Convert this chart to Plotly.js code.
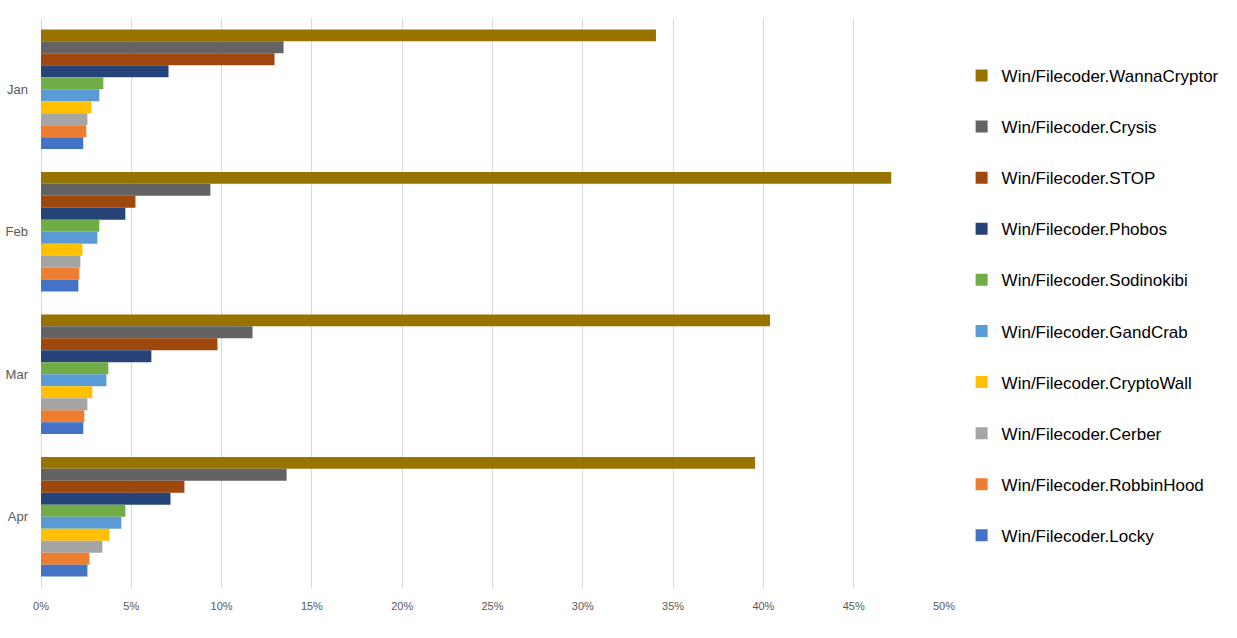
<!DOCTYPE html>
<html>
<head>
<meta charset="utf-8">
<script src="https://cdn.plot.ly/plotly-3.0.1.min.js"></script>
<style>
  body { margin: 0; background: #fff; }
  #chart { width: 1237px; height: 638px; }
</style>
</head>
<body>
<div id="chart"></div>
<script>
const months = ['Jan', 'Feb', 'Mar', 'Apr']

// share of detections per month, in %
const wannaCryptor = [34.05, 47.08, 40.37, 39.54]
const crysis       = [13.43, 9.38, 11.71, 13.60]
const stop         = [12.93, 5.23, 9.77, 7.94]
const phobos       = [7.06, 4.67, 6.11, 7.17]
const sodinokibi   = [3.45, 3.23, 3.73, 4.67]
const gandCrab     = [3.23, 3.12, 3.62, 4.45]
const cryptoWall   = [2.79, 2.29, 2.84, 3.79]
const cerber       = [2.57, 2.18, 2.57, 3.40]
const robbinHood   = [2.51, 2.12, 2.40, 2.68]
const locky        = [2.34, 2.07, 2.34, 2.57]

const seriesNames = [
  'Win/Filecoder.WannaCryptor', 'Win/Filecoder.Crysis', 'Win/Filecoder.STOP',
  'Win/Filecoder.Phobos', 'Win/Filecoder.Sodinokibi', 'Win/Filecoder.GandCrab',
  'Win/Filecoder.CryptoWall', 'Win/Filecoder.Cerber', 'Win/Filecoder.RobbinHood',
  'Win/Filecoder.Locky'
]
const seriesValues = [wannaCryptor, crysis, stop, phobos, sodinokibi,
  gandCrab, cryptoWall, cerber, robbinHood, locky]
const seriesColors = ['#997300', '#636363', '#9E480E', '#264478', '#70AD47',
  '#5B9BD5', '#FFC000', '#A5A5A5', '#ED7D31', '#4472C4']

let data = seriesNames.map((name, i) => ({
  type: 'bar',
  orientation: 'h',
  name: name,
  legendgroup: name,
  y: months,
  x: seriesValues[i].map(v => v / 100),
  marker: { color: seriesColors[i] },
  hovertemplate: '%{y}: %{x:.1%}<extra>' + name + '</extra>'
}))

let layout = {
  width: 1237,
  height: 638,
  margin: { l: 41, r: 293, t: 18, b: 50, autoexpand: false },
  paper_bgcolor: '#fff',
  plot_bgcolor: '#fff',
  font: { family: 'Liberation Sans, Arial, sans-serif', color: '#595959' },
  barmode: 'group',
  bargap: 0.16,
  bargroupgap: 0,
  xaxis: {
    range: [0, 0.5],
    dtick: 0.05,
    tickformat: '.0%',
    tickfont: { size: 11, color: '#595959' },
    ticklabelstandoff: 10,
    gridcolor: '#d9d9d9',
    gridwidth: 1,
    zeroline: true,
    zerolinecolor: '#d9d9d9',
    showline: false,
    ticks: '',
    fixedrange: true
  },
  yaxis: {
    autorange: 'reversed',
    tickfont: { size: 13, color: '#595959' },
    ticks: '',
    ticklabelstandoff: 12,
    showgrid: false,
    showline: false,
    fixedrange: true
  },
  showlegend: true,
  legend: {
    x: 1.0195,
    xanchor: 'left',
    y: 0.93,
    yanchor: 'top',
    font: { size: 17, color: '#000' },
    tracegroupgap: 26,
    itemwidth: 30
  }
}

Plotly.newPlot('chart', data, layout, { displayModeBar: false })
</script>
</body>
</html>
